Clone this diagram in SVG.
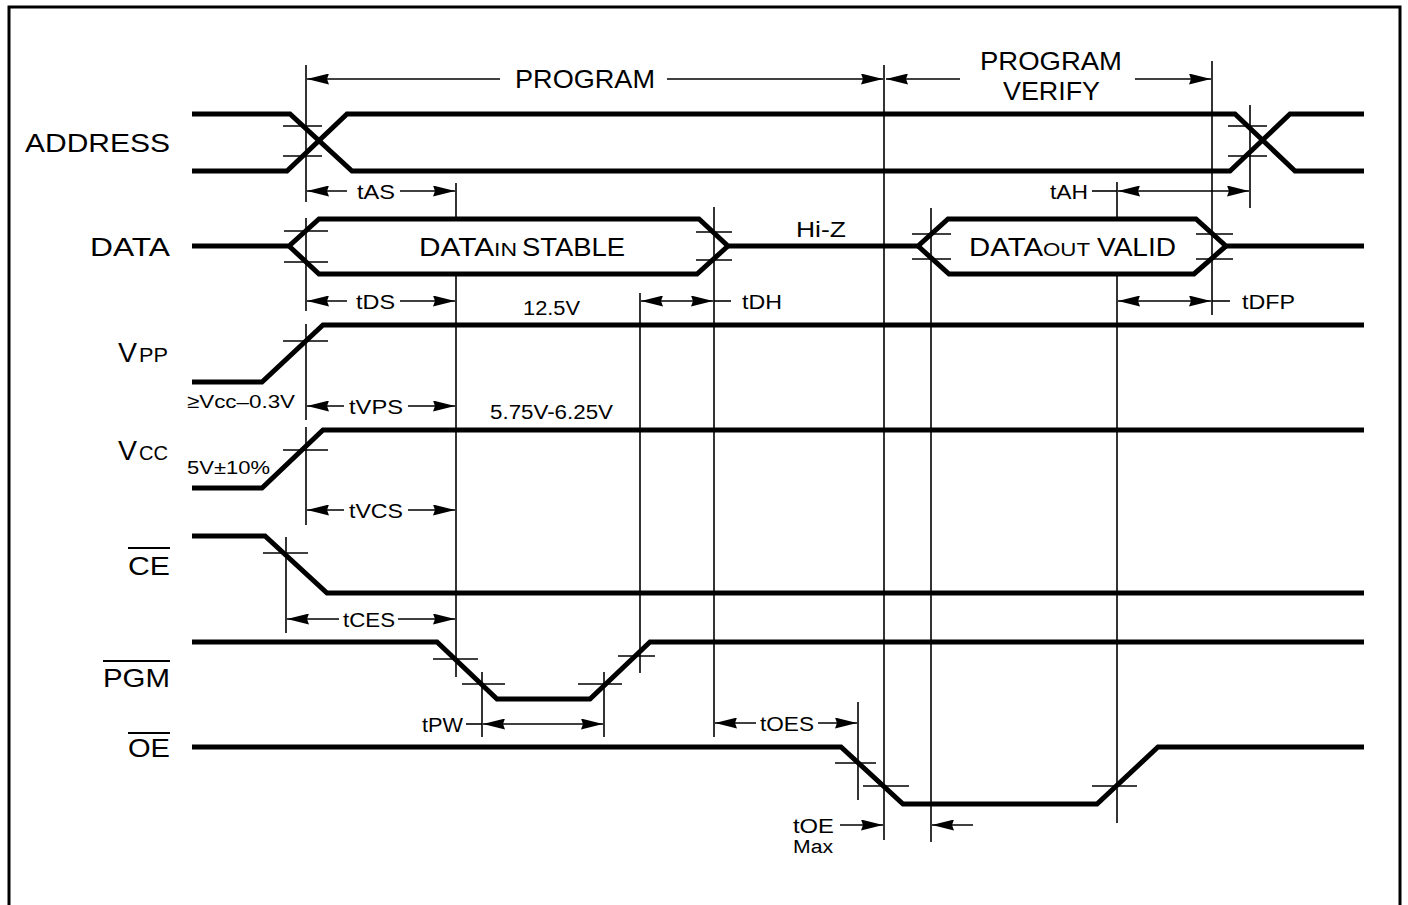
<svg xmlns="http://www.w3.org/2000/svg" width="1408" height="905" viewBox="0 0 1408 905">
<style>
.sig{fill:none;stroke:#000;stroke-width:5;stroke-linejoin:miter;stroke-linecap:butt}
.ref{fill:none;stroke:#000;stroke-width:1.6}
.dim{fill:none;stroke:#000;stroke-width:1.6}
.t{font-family:"Liberation Sans",Arial,Helvetica,sans-serif;fill:#000}
.ol{stroke:#000;stroke-width:2}
</style>
<defs>
<marker id="ah" viewBox="0 0 22 11" refX="22" refY="5.5" markerWidth="22" markerHeight="11" markerUnits="userSpaceOnUse" orient="auto-start-reverse">
<path d="M0,0 L22,5.5 L0,11 L2,5.5 z" fill="#000"/>
</marker>
</defs>
<rect x="0" y="0" width="1408" height="905" fill="#fff"/>
<rect id="frame" x="9" y="7" width="1391" height="910" fill="none" stroke="#000" stroke-width="3"/>

<g id="labels" class="t">
<text x="25" y="152" font-size="25" textLength="145" lengthAdjust="spacingAndGlyphs">ADDRESS</text>
<text x="90" y="256" font-size="25" textLength="80" lengthAdjust="spacingAndGlyphs">DATA</text>
<text x="118" y="362" font-size="27" textLength="19" lengthAdjust="spacingAndGlyphs">V</text>
<text x="139" y="362" font-size="20" textLength="29" lengthAdjust="spacingAndGlyphs">PP</text>
<text x="118" y="460" font-size="27" textLength="19" lengthAdjust="spacingAndGlyphs">V</text>
<text x="139" y="460" font-size="20" textLength="29" lengthAdjust="spacingAndGlyphs">CC</text>
<text x="128" y="575" font-size="25" textLength="42" lengthAdjust="spacingAndGlyphs">CE</text>
<line class="ol" x1="128" y1="548" x2="170" y2="548"/>
<text x="103" y="687" font-size="25" textLength="67" lengthAdjust="spacingAndGlyphs">PGM</text>
<line class="ol" x1="103" y1="661" x2="170" y2="661"/>
<text x="128" y="757" font-size="25" textLength="42" lengthAdjust="spacingAndGlyphs">OE</text>
<line class="ol" x1="128" y1="733" x2="170" y2="733"/>
</g>

<g id="signal-address">
<path class="sig" d="M192,114 H290 L352,171 H1230 L1290,114 H1364"/>
<path class="sig" d="M192,171 H287 L347,114 H1235 L1295,171 H1364"/>
</g>
<g id="signal-data">
<path class="sig" d="M192,246 H289 L319,219 H699 L728,246 H918 L948,219 H1196 L1226,246 H1364"/>
<path class="sig" d="M289,246 L319,274 H697 L728,246"/>
<path class="sig" d="M918,246 L949,274 H1194 L1226,246"/>
</g>
<g id="signal-vpp"><path class="sig" d="M192,382 H262 L323,325 H1364"/></g>
<g id="signal-vcc"><path class="sig" d="M192,488 H262 L323,430 H1364"/></g>
<g id="signal-ce"><path class="sig" d="M192,536 H265 L327,593 H1364"/></g>
<g id="signal-pgm"><path class="sig" d="M192,642 H437 L497,699 H590 L650,642 H1364"/></g>
<g id="signal-oe"><path class="sig" d="M192,747 H841 L903,804 H1097 L1158,747 H1364"/></g>

<g id="connectors">
<g id="reference-lines" class="ref">
<line x1="306" y1="65" x2="306" y2="202"/>
<line x1="306" y1="218" x2="306" y2="311"/>
<line x1="306" y1="324" x2="306" y2="420"/>
<line x1="306" y1="427" x2="306" y2="525"/>
<line x1="456" y1="183" x2="456" y2="219"/>
<line x1="456" y1="274" x2="456" y2="677"/>
<line x1="640" y1="293" x2="640" y2="673"/>
<line x1="714" y1="207" x2="714" y2="737"/>
<line x1="884" y1="65" x2="884" y2="840"/>
<line x1="931" y1="208" x2="931" y2="842"/>
<line x1="1117" y1="182" x2="1117" y2="219"/>
<line x1="1117" y1="274" x2="1117" y2="823"/>
<line x1="1212" y1="61" x2="1212" y2="315"/>
<line x1="1250" y1="105" x2="1250" y2="208"/>
<line x1="286" y1="537" x2="286" y2="633"/>
<line x1="482" y1="672" x2="482" y2="737"/>
<line x1="604" y1="672" x2="604" y2="737"/>
<line x1="858" y1="702" x2="858" y2="800"/>
</g>
<g id="ticks" class="ref">
<line x1="283" y1="126" x2="322" y2="126"/>
<line x1="283" y1="156" x2="322" y2="156"/>
<line x1="1228" y1="126" x2="1267" y2="126"/>
<line x1="1228" y1="156" x2="1267" y2="156"/>
<line x1="284" y1="231" x2="328" y2="231"/>
<line x1="284" y1="262" x2="328" y2="262"/>
<line x1="696" y1="232" x2="732" y2="232"/>
<line x1="696" y1="260" x2="732" y2="260"/>
<line x1="912" y1="234" x2="951" y2="234"/>
<line x1="912" y1="259" x2="951" y2="259"/>
<line x1="1196" y1="234" x2="1233" y2="234"/>
<line x1="1196" y1="259" x2="1233" y2="259"/>
<line x1="283" y1="341" x2="328" y2="341"/>
<line x1="283" y1="450" x2="328" y2="450"/>
<line x1="263" y1="553" x2="308" y2="553"/>
<line x1="433" y1="659" x2="478" y2="659"/>
<line x1="462" y1="684" x2="505" y2="684"/>
<line x1="578" y1="684" x2="622" y2="684"/>
<line x1="618" y1="656" x2="655" y2="656"/>
<line x1="835" y1="763" x2="876" y2="763"/>
<line x1="863" y1="786" x2="909" y2="786"/>
<line x1="1092" y1="786" x2="1137" y2="786"/>
</g>
<g id="dimensions" class="dim">
<line x1="307" y1="79" x2="500" y2="79" marker-start="url(#ah)"/>
<line x1="667" y1="79" x2="883" y2="79" marker-end="url(#ah)"/>
<line x1="886" y1="79" x2="960" y2="79" marker-start="url(#ah)"/>
<line x1="1135" y1="79" x2="1211" y2="79" marker-end="url(#ah)"/>
<line x1="307" y1="191" x2="347" y2="191" marker-start="url(#ah)"/>
<line x1="400" y1="191" x2="455" y2="191" marker-end="url(#ah)"/>
<line x1="1092" y1="191" x2="1117" y2="191"/>
<line x1="1118" y1="191" x2="1249" y2="191" marker-start="url(#ah)" marker-end="url(#ah)"/>
<line x1="307" y1="301" x2="347" y2="301" marker-start="url(#ah)"/>
<line x1="400" y1="301" x2="455" y2="301" marker-end="url(#ah)"/>
<line x1="641" y1="301" x2="713" y2="301" marker-start="url(#ah)" marker-end="url(#ah)"/>
<line x1="714" y1="301" x2="731" y2="301"/>
<line x1="1118" y1="301" x2="1211" y2="301" marker-start="url(#ah)" marker-end="url(#ah)"/>
<line x1="1212" y1="301" x2="1230" y2="301"/>
<line x1="307" y1="406" x2="344" y2="406" marker-start="url(#ah)"/>
<line x1="408" y1="406" x2="455" y2="406" marker-end="url(#ah)"/>
<line x1="307" y1="510" x2="344" y2="510" marker-start="url(#ah)"/>
<line x1="408" y1="510" x2="455" y2="510" marker-end="url(#ah)"/>
<line x1="287" y1="619" x2="339" y2="619" marker-start="url(#ah)"/>
<line x1="398" y1="619" x2="455" y2="619" marker-end="url(#ah)"/>
<line x1="466" y1="724" x2="482" y2="724"/>
<line x1="483" y1="724" x2="603" y2="724" marker-start="url(#ah)" marker-end="url(#ah)"/>
<line x1="715" y1="723" x2="756" y2="723" marker-start="url(#ah)"/>
<line x1="818" y1="723" x2="857" y2="723" marker-end="url(#ah)"/>
<line x1="840" y1="825" x2="883" y2="825" marker-end="url(#ah)"/>
<line x1="932" y1="825" x2="973" y2="825" marker-start="url(#ah)"/>
</g>
</g>

<g id="annotations" class="t">
<text x="515" y="88" font-size="26" textLength="140" lengthAdjust="spacingAndGlyphs">PROGRAM</text>
<text x="980" y="70" font-size="26" textLength="142" lengthAdjust="spacingAndGlyphs">PROGRAM</text>
<text x="1003" y="100" font-size="26" textLength="97" lengthAdjust="spacingAndGlyphs">VERIFY</text>
<text x="357" y="199" font-size="21" textLength="38" lengthAdjust="spacingAndGlyphs">tAS</text>
<text x="1050" y="199" font-size="21" textLength="38" lengthAdjust="spacingAndGlyphs">tAH</text>
<text x="796" y="237" font-size="22" textLength="50" lengthAdjust="spacingAndGlyphs">Hi-Z</text>
<text x="419" y="256" font-size="25" textLength="75" lengthAdjust="spacingAndGlyphs">DATA</text>
<text x="494" y="256" font-size="18" textLength="23" lengthAdjust="spacingAndGlyphs">IN</text>
<text x="522" y="256" font-size="25" textLength="103" lengthAdjust="spacingAndGlyphs">STABLE</text>
<text x="969" y="256" font-size="25" textLength="74" lengthAdjust="spacingAndGlyphs">DATA</text>
<text x="1043" y="256" font-size="18" textLength="47" lengthAdjust="spacingAndGlyphs">OUT</text>
<text x="1097" y="256" font-size="25" textLength="79" lengthAdjust="spacingAndGlyphs">VALID</text>
<text x="356" y="309" font-size="21" textLength="39" lengthAdjust="spacingAndGlyphs">tDS</text>
<text x="523" y="315" font-size="20" textLength="57" lengthAdjust="spacingAndGlyphs">12.5V</text>
<text x="742" y="309" font-size="21" textLength="40" lengthAdjust="spacingAndGlyphs">tDH</text>
<text x="1242" y="309" font-size="21" textLength="53" lengthAdjust="spacingAndGlyphs">tDFP</text>
<text x="187" y="408" font-size="19" textLength="108" lengthAdjust="spacingAndGlyphs">≥Vcc–0.3V</text>
<text x="349" y="414" font-size="21" textLength="54" lengthAdjust="spacingAndGlyphs">tVPS</text>
<text x="490" y="419" font-size="20" textLength="123" lengthAdjust="spacingAndGlyphs">5.75V-6.25V</text>
<text x="187" y="474" font-size="19" textLength="83" lengthAdjust="spacingAndGlyphs">5V±10%</text>
<text x="349" y="518" font-size="21" textLength="54" lengthAdjust="spacingAndGlyphs">tVCS</text>
<text x="343" y="627" font-size="21" textLength="52" lengthAdjust="spacingAndGlyphs">tCES</text>
<text x="422" y="732" font-size="21" textLength="41" lengthAdjust="spacingAndGlyphs">tPW</text>
<text x="760" y="731" font-size="21" textLength="54" lengthAdjust="spacingAndGlyphs">tOES</text>
<text x="793" y="833" font-size="21" textLength="41" lengthAdjust="spacingAndGlyphs">tOE</text>
<text x="793" y="853" font-size="18" textLength="40" lengthAdjust="spacingAndGlyphs">Max</text>
</g>
</svg>
